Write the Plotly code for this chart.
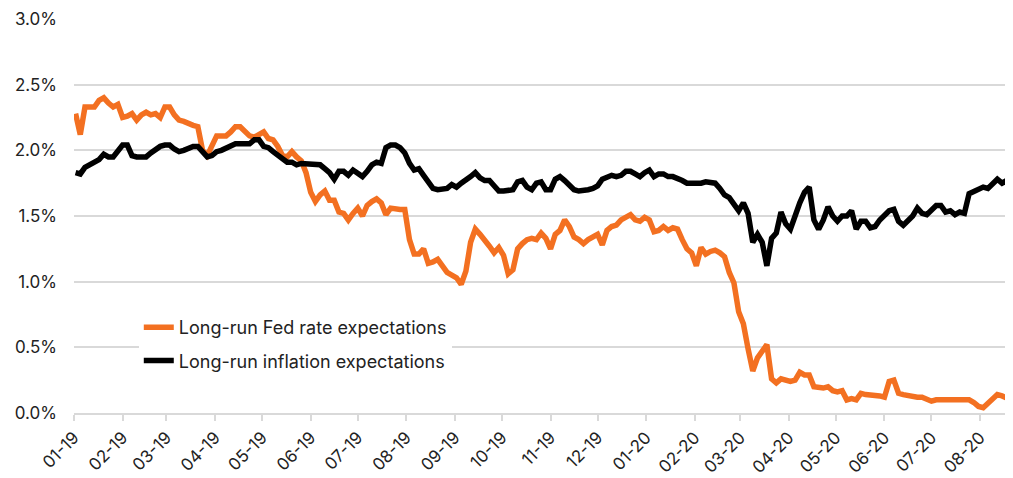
import pandas as pd
import plotly.graph_objects as go

# Sampled every 3 calendar days starting 2019-01-02
start_date = "2019-01-02"
n_points = 200

fed_rate = [
    2.28, 2.12, 2.33, 2.33, 2.33, 2.38, 2.40, 2.36, 2.33, 2.35,
    2.25, 2.26, 2.28, 2.23, 2.27, 2.29, 2.27, 2.28, 2.25, 2.33,
    2.33, 2.27, 2.23, 2.22, 2.20, 2.19, 2.18, 2.00, 1.96, 2.04,
    2.11, 2.11, 2.11, 2.14, 2.18, 2.18, 2.15, 2.11, 2.10, 2.12,
    2.14, 2.09, 2.08, 2.03, 1.96, 1.95, 1.99, 1.95, 1.92, 1.83,
    1.68, 1.61, 1.66, 1.69, 1.62, 1.62, 1.53, 1.52, 1.47, 1.52,
    1.56, 1.50, 1.58, 1.61, 1.63, 1.60, 1.51, 1.56, 1.55, 1.55,
    1.55, 1.32, 1.21, 1.21, 1.25, 1.14, 1.15, 1.17, 1.12, 1.07,
    1.05, 1.03, 0.98, 1.08, 1.30, 1.40, 1.36, 1.32, 1.27, 1.22,
    1.26, 1.20, 1.06, 1.09, 1.25, 1.29, 1.32, 1.33, 1.32, 1.37,
    1.33, 1.25, 1.36, 1.39, 1.47, 1.42, 1.34, 1.32, 1.29, 1.32,
    1.34, 1.36, 1.28, 1.39, 1.42, 1.43, 1.47, 1.49, 1.51, 1.47,
    1.46, 1.49, 1.47, 1.38, 1.39, 1.42, 1.39, 1.41, 1.40, 1.32,
    1.25, 1.22, 1.12, 1.26, 1.21, 1.23, 1.24, 1.22, 1.19, 1.07,
    0.99, 0.77, 0.68, 0.49, 0.32, 0.42, 0.47, 0.52, 0.26, 0.23,
    0.26, 0.25, 0.24, 0.25, 0.31, 0.29, 0.29, 0.20, 0.19, 0.19,
    0.20, 0.17, 0.16, 0.17, 0.10, 0.11, 0.10, 0.15, 0.14, 0.14,
    0.14, 0.13, 0.12, 0.24, 0.25, 0.15, 0.14, 0.13, 0.12, 0.12,
    0.12, 0.10, 0.09, 0.10, 0.10, 0.10, 0.10, 0.10, 0.10, 0.10,
    0.10, 0.08, 0.05, 0.04, 0.07, 0.10, 0.14, 0.13, 0.11, 0.10,
]

inflation = [
    1.83, 1.82, 1.87, 1.89, 1.90, 1.93, 1.97, 1.95, 1.95, 1.99,
    2.04, 2.04, 1.96, 1.95, 1.95, 1.95, 1.98, 2.01, 2.03, 2.04,
    2.04, 2.01, 1.99, 2.00, 2.02, 2.03, 2.03, 1.99, 1.95, 1.96,
    1.99, 2.00, 2.02, 2.03, 2.05, 2.05, 2.05, 2.05, 2.08, 2.08,
    2.03, 2.02, 1.99, 1.96, 1.93, 1.91, 1.91, 1.89, 1.90, 1.90,
    1.90, 1.90, 1.89, 1.86, 1.83, 1.78, 1.84, 1.84, 1.81, 1.85,
    1.83, 1.80, 1.84, 1.89, 1.91, 1.90, 2.02, 2.04, 2.04, 2.02,
    1.98, 1.90, 1.85, 1.86, 1.81, 1.76, 1.71, 1.70, 1.71, 1.71,
    1.74, 1.72, 1.75, 1.77, 1.80, 1.83, 1.79, 1.77, 1.77, 1.73,
    1.69, 1.69, 1.70, 1.70, 1.76, 1.77, 1.72, 1.70, 1.75, 1.76,
    1.70, 1.70, 1.78, 1.80, 1.77, 1.73, 1.70, 1.69, 1.69, 1.70,
    1.71, 1.73, 1.78, 1.80, 1.81, 1.80, 1.81, 1.84, 1.84, 1.82,
    1.80, 1.83, 1.85, 1.80, 1.82, 1.82, 1.80, 1.80, 1.79, 1.77,
    1.75, 1.75, 1.74, 1.75, 1.76, 1.76, 1.75, 1.71, 1.66, 1.64,
    1.58, 1.54, 1.60, 1.52, 1.30, 1.36, 1.30, 1.12, 1.33, 1.37,
    1.53, 1.44, 1.40, 1.51, 1.60, 1.68, 1.72, 1.47, 1.40, 1.47,
    1.57, 1.50, 1.46, 1.50, 1.50, 1.54, 1.40, 1.46, 1.46, 1.41,
    1.42, 1.47, 1.50, 1.54, 1.55, 1.46, 1.43, 1.47, 1.50, 1.56,
    1.52, 1.51, 1.54, 1.58, 1.58, 1.53, 1.54, 1.51, 1.53, 1.52,
    1.67, 1.69, 1.70, 1.72, 1.71, 1.74, 1.78, 1.75, 1.77, 1.71,
]

y_ticks = [0, 0.5, 1.0, 1.5, 2.0, 2.5, 3.0]

dates = pd.date_range(start_date, periods=n_points, freq="3D")

ORANGE = "#F37021"
BLACK = "#000000"
GRID = "#d9d9d9"
FONT = "Inter, Lato, sans-serif"

fig = go.Figure()
fig.add_trace(go.Scatter(
    x=dates, y=fed_rate, mode="lines", name="Long-run Fed rate expectations",
    line=dict(color=ORANGE, width=5.5), legendgroup="a",
))
fig.add_trace(go.Scatter(
    x=dates, y=inflation, mode="lines", name="Long-run inflation expectations",
    line=dict(color=BLACK, width=5.5), legendgroup="b",
))

# the page body adds an 8px offset; figure is sized to fit the 1013x478 window
fig.update_layout(
    width=1005, height=470,
    margin=dict(l=66, r=0, t=11, b=65),
    paper_bgcolor="white", plot_bgcolor="white",
    font=dict(family=FONT, size=17, color="#222222"),
    showlegend=True,
    legend=dict(
        x=0.069, y=0.264, xanchor="left", yanchor="top",
        bgcolor="white", borderwidth=0,
        font=dict(size=18, color="#222222"),
        tracegroupgap=7,
    ),
)
fig.update_xaxes(
    range=["2019-01-01", "2020-08-22"],
    tickformat="%m-%y", dtick="M1", tick0="2019-01-01",
    tickangle=-45, tickfont=dict(size=17, color="#222222"),
    showgrid=False, showline=True, linecolor=GRID, linewidth=2,
    ticks="outside", ticklen=6, tickcolor=GRID, tickwidth=2,
    zeroline=False,
)
fig.update_yaxes(
    range=[0, 3], tickvals=y_ticks,
    ticktext=[f"{v:.1f}%" for v in y_ticks],
    tickfont=dict(size=17, color="#222222"),
    showgrid=True, gridcolor=GRID, gridwidth=2,
    zeroline=False, showline=False, ticks="",
    ticklabelstandoff=16,
)

fig.write_html("out.html")
